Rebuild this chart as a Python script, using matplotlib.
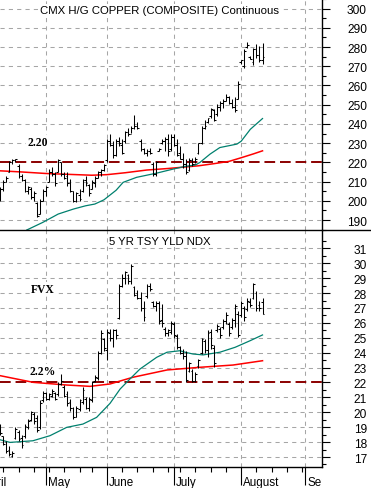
import matplotlib
matplotlib.use("Agg")
import matplotlib.pyplot as plt
from matplotlib.lines import Line2D
from matplotlib.transforms import Bbox, TransformedBbox, blended_transform_factory
import numpy as np

# ---------------- data ----------------
# trading-day index (0 = 1 May 2009)
day_index = list(range(-15, 72))

cu_low = [200, 205, 209.6, 214.8, 219, 220, 212, 210.4, 204.4, 203.5, 200.9, 200, 191.6, 193, 200,
          202.6, 209.6, 213, 207.8, 214.8, 213, 211.3, 207.8, 204.4, 199.5, 199.2, 200, 204.4, 207.8, 202.6,
          206, 207, 212, 213, 215.6,
          220, 228.6, 222.5, 223.4, 228.6, 224.3, 230.3, 233.8, 235.5, 237.2, 237.2, 226, 224.3, 223.4, 224.3,
          213, 213, 226, 229.5, 226, 223.4, 226,
          228.6, 223.4, 221.7, 217, 213.9, 215.6, 218.2, 219.5, 224.3, 229.5, 237.2, 240.7, 243.3, 241.6,
          244.2, 246.8, 248.5, 252, 250.2, 248.5, 246, 253,
          271, 269.3, 279.7, 273.6, 270.5, 274.5, 272, 271]
cu_high = [207, 211, 213, 220.8, 221.5, 222, 219, 213.9, 211.3, 207.8, 207, 205.2, 199.3, 201, 206,
           207.8, 216.5, 217.5, 214.8, 221.7, 220, 214.8, 214.8, 211.3, 205, 204.5, 206, 211.3, 213, 208.5,
           211, 213, 215.6, 216.5, 219,
           232, 234.6, 231.2, 232, 233, 232, 236.4, 238.1, 239, 244.5, 240.9, 232, 227.7, 226.9, 227.7,
           220, 220.8, 227.7, 232, 233, 234.6, 234.6,
           234.6, 232, 228.6, 225, 221.7, 222.5, 222.5, 223, 230.3, 239, 242, 243.3, 248.5, 247.6,
           250.2, 252, 252.8, 255.4, 254.5, 252.8, 254, 262.3,
           273.5, 278.8, 282.6, 275.3, 279.7, 281.4, 280.5, 282.2]
cu_open = [201, 206, 210, 215, 220, 221, 218, 213, 211, 205, 206, 202, 199, 193, 200,
           205, 210, 215, 214, 215, 220, 214, 213, 209, 205, 200, 203, 205, 211, 208,
           206, 209, 212, 215, 216,
           221, 231, 229, 224, 231, 229, 231, 236, 235, 238, 239, 231, 227, 225, 226,
           219, 214, 226, 230, 231, 232, 227,
           233, 229, 225, 222, 219, 216, 221, 219, 225, 230, 238, 241, 244, 247,
           245, 249, 251, 252, 254, 251, 249, 253,
           272, 270, 280, 275, 272, 279, 276, 273]
cu_close = [206, 210, 212, 220, 221, 221.5, 213, 211, 205, 207, 202, 204, 192, 200, 205,
            207, 215, 214, 209, 221, 214, 212, 209, 205, 200, 204, 201, 211, 209, 204,
            210, 212, 215, 216, 218.5,
            231, 229, 224, 231, 230, 225, 236, 235, 238, 239, 238, 227, 225, 226, 225,
            214, 220, 227, 231, 232, 226, 233,
            229, 224, 222, 219, 215, 221, 219, 222, 230, 238, 239, 243, 248, 242,
            249, 251, 252, 254, 251, 249, 247, 261,
            273, 278, 281, 274, 279, 276, 273, 275]

fvx_low = [18.5, 17.8, 17.3, 17.1, 17.0, 18.2, 18.1, 17.6, 18.3, 18.9, 19.4, 19.2, 18.65, 18.9, 20.7,
           20.8, 20.8, 21.0, 20.8, 21.1, 21.8, 21.0, 20.45, 20.1, 19.55, 19.66, 20.1, 20.55, 20.2, 20.1,
           20.7, 22.0, 22.2, 23.9, 24.1,
           23.5, 24.8, 24.4, 24.9, 26.26, 28.4, 28.6, 28.6, 28.6, 27.8, 27.6, 26.8, 26.15, 27.7, 28.16,
           27.05, 26.8, 25.9, 25.7, 25.14, 25.14, 25.25,
           25.0, 24.25, 23.9, 23.6, 22.0, 22.7, 22.0, 22.0, 23.0, 23.9, 24.0, 23.7, 24.25, 23.06,
           25.4, 25.0, 25.6, 25.9, 25.14, 25.6, 25.7, 25.03,
           26.4, 26.15, 26.8, 27.05, 27.6, 26.8, 26.8, 26.6]
fvx_high = [19.2, 18.4, 18.1, 17.76, 17.4, 19.0, 18.8, 18.5, 19.2, 19.55, 20.1, 20.0, 19.8, 20.8, 21.45,
            21.35, 21.3, 21.56, 21.35, 22.0, 22.6, 21.8, 21.45, 20.9, 20.33, 20.44, 20.9, 21.7, 21.0, 21.0,
            22.1, 22.5, 24.1, 25.5, 25.0,
            25.6, 25.6, 25.6, 25.6, 28.6, 29.3, 29.5, 29.3, 29.95, 28.5, 28.2, 28.05, 27.5, 28.6, 28.7,
            27.5, 27.5, 27.5, 27.27, 25.7, 25.6, 26.15,
            26.05, 25.25, 24.47, 24.25, 24.1, 23.4, 22.9, 22.7, 23.57, 25.0, 24.9, 25.5, 25.6, 24.5,
            25.9, 25.7, 26.26, 26.7, 26.05, 26.3, 27.27, 26.8,
            27.5, 27.15, 27.7, 27.7, 28.7, 28.16, 27.5, 27.7]
fvx_open = [19.1, 18.4, 18.0, 17.5, 17.1, 18.3, 18.7, 18.3, 18.4, 19.0, 19.5, 19.9, 19.6, 19.0, 20.8,
            21.3, 20.9, 21.1, 21.3, 21.2, 21.9, 21.7, 21.2, 20.7, 20.3, 19.7, 20.2, 20.7, 20.9, 20.3,
            20.8, 22.1, 22.3, 24.0, 24.9,
            24.2, 25.3, 25.0, 25.5, 26.3, 28.5, 29.0, 29.2, 28.8, 28.4, 28.0, 27.7, 27.0, 27.8, 28.5,
            27.4, 27.1, 27.3, 26.2, 25.6, 25.3, 25.4,
            25.9, 25.1, 24.4, 24.0, 23.8, 22.8, 22.8, 22.1, 23.1, 24.0, 24.8, 24.2, 25.4, 24.3,
            25.5, 25.6, 25.7, 26.1, 25.9, 25.7, 26.2, 26.6,
            26.5, 27.0, 26.9, 27.4, 27.7, 28.0, 27.2, 27.4]
fvx_close = [18.6, 17.9, 17.4, 17.2, 17.3, 18.9, 18.2, 17.8, 19.1, 19.4, 20.0, 19.4, 18.8, 20.6, 21.3,
             20.9, 21.2, 21.4, 20.9, 21.9, 22.1, 21.1, 20.6, 20.3, 19.7, 20.3, 20.8, 21.5, 20.3, 20.9,
             22.0, 22.4, 24.0, 25.3, 24.3,
             25.4, 25.0, 25.5, 25.2, 28.5, 29.0, 29.4, 28.8, 29.8, 27.9, 27.7, 27.0, 26.4, 28.5, 28.3,
             27.1, 27.3, 26.1, 26.0, 25.3, 25.5, 26.0,
             25.2, 24.4, 24.0, 23.8, 22.2, 23.3, 22.1, 22.6, 23.5, 24.9, 24.2, 25.3, 24.5, 23.3,
             25.8, 25.2, 26.1, 26.5, 25.3, 26.2, 27.1, 25.2,
             27.3, 26.4, 27.5, 27.2, 28.6, 27.0, 27.0, 26.6]

# moving averages at selected days
cu_ma50_day = [-6.3, -1, 4, 9, 13, 16, 19, 23, 25.3, 29.7, 36.3, 41.7, 45.6, 49, 50.5, 53.8, 57, 62.6, 64, 67, 71]
cu_ma50_val = [184.8, 188.8, 193.1, 195.7, 197.4, 198.3, 200.5, 205.5, 209.6, 212.2, 214.4, 216.5, 217.9,
               218.6, 220.0, 224.3, 227.7, 229.5, 231.0, 237.2, 242.8]
cu_ma200_day = [-15.1, -8, 0, 10, 15, 20, 26, 33, 40, 45, 50, 55, 60, 64, 68, 71]
cu_ma200_val = [215.6, 215.0, 214.2, 213.6, 213.3, 213.6, 214.6, 216.0, 216.8, 217.5, 218.2, 219.3,
                220.5, 222.4, 224.4, 226.0]

fvx_ma50_day = [-15.1, -11.8, -4.3, 1.3, 6.8, 12.1, 16.6, 21, 24.3, 27.5, 30.8, 36.3, 39.7, 43.9, 45.6,
                48.2, 51.5, 57, 62, 66.9, 71]
fvx_ma50_val = [18.16, 17.98, 18.09, 18.43, 18.99, 19.21, 19.66, 20.6, 21.56, 22.23, 22.9, 23.69, 24.03,
                24.13, 24.03, 23.91, 23.85, 24.03, 24.36, 24.8, 25.19]
fvx_ma200_day = [-15.1, -4.2, 6.8, 14.4, 21, 28.5, 39.7, 50.5, 61.3, 71]
fvx_ma200_val = [22.46, 22.01, 21.83, 21.74, 21.9, 22.35, 22.84, 23.02, 23.17, 23.46]

cu_level = 220
fvx_level = 22

month_start = [-21, 0, 20, 42, 64, 85]
month_names = ["April", "May", "June", "July", "August", "September"]
week_ticks = [-14, -9, -4, 1, 6, 11, 15, 25, 30, 35, 40, 44, 49, 54, 59, 69, 74, 79, 84]

cu_ticks = list(range(190, 301, 10))
fvx_ticks = list(range(17, 32))

# ---------------- figure ----------------
W, H = 371, 489
fig = plt.figure(figsize=(W / 100, H / 100), dpi=100)
fig.patch.set_facecolor("white")


def px_rect(l, t, r, b):
    return [l / W, 1 - b / H, (r - l) / W, (b - t) / H]


ax1 = fig.add_axes(px_rect(0, 0, 322, 231))
ax2 = fig.add_axes(px_rect(0, 231, 322, 468))

SANS = "Liberation Sans"
SERIF = "Liberation Serif"
GRID = "#a6a6a6"
TEAL = "#00806e"
RED = "#ff0000"
MAROON = "#8b0000"

x = np.array(day_index, dtype=float)


def ohlc(ax, o, h, l, c):
    ax.vlines(x, l, h, color="black", lw=0.75, zorder=5)
    ax.hlines(o, x - 0.6, x, color="black", lw=0.75, zorder=5)
    ax.hlines(c, x, x + 0.6, color="black", lw=0.75, zorder=5)


def style(ax, ticks, minor_step, ylim):
    ax.set_xlim(-15.08, 90.5)
    ax.set_ylim(*ylim)
    for s in ("left", "top"):
        ax.spines[s].set_visible(False)
    ax.spines["right"].set_linewidth(1.0)
    ax.yaxis.tick_right()
    ax.set_yticks(ticks)
    ax.set_yticks(np.arange(ticks[0] - minor_step, ticks[-1] + 2 * minor_step, minor_step), minor=True)
    ax.tick_params(axis="y", which="major", direction="out", length=5.8, width=0.8,
                   pad=26.5, labelsize=8.6, labelfontfamily=SANS)
    ax.tick_params(axis="y", which="minor", direction="out", length=2.9, width=0.8)
    for t in ax.yaxis.get_major_ticks():
        t.label2.set_horizontalalignment("right")
    for v in ticks:
        if v not in (cu_level, fvx_level):
            ax.axhline(v, color=GRID, lw=0.75, ls=(0, (4, 4)), zorder=0)
    for m in month_start[1:]:
        ax.axvline(m, color=GRID, lw=0.75, ls=(0, (4, 4)), zorder=0)


# top panel
style(ax1, cu_ticks, 5, (184.8, 304.75))
ax1.spines["bottom"].set_visible(False)
ax1.set_xticks([])
ax1.plot(cu_ma200_day, cu_ma200_val, color=RED, lw=1.1, zorder=3)
ax1.plot(cu_ma50_day, cu_ma50_val, color=TEAL, lw=0.9, zorder=3)
ax1.axhline(cu_level, color=MAROON, lw=1.4, ls=(0, (5.5, 2.5)), zorder=2)
ohlc(ax1, cu_open, cu_high, cu_low, cu_close)

# bottom panel
style(ax2, fvx_ticks, 0.5, (16.33, 32.23))
ax2.spines["top"].set_visible(False)
ax2.spines["bottom"].set_linewidth(1.0)
ax2.set_xticks(month_start[1:])
ax2.set_xticklabels([])
ax2.set_xticks(week_ticks, minor=True)
ax2.tick_params(axis="x", which="major", direction="out", length=13, width=0.8)
ax2.tick_params(axis="x", which="minor", direction="out", length=3.6, width=0.8)
ax2.plot(fvx_ma200_day, fvx_ma200_val, color=RED, lw=1.1, zorder=3)
ax2.plot(fvx_ma50_day, fvx_ma50_val, color=TEAL, lw=0.9, zorder=3)
ax2.axhline(fvx_level, color=MAROON, lw=1.4, ls=(0, (5.5, 2.5)), zorder=2)
ohlc(ax2, fvx_open, fvx_high, fvx_low, fvx_close)

# divider line across the whole width
fig.add_artist(Line2D([0, 1], [1 - 231 / H] * 2, transform=fig.transFigure, color="black", lw=1.0))

# month labels (first and last are cut by the chart edges, as in the source)
clip = TransformedBbox(Bbox([[0, 0], [322 / W, 1]]), fig.transFigure)
tr = blended_transform_factory(ax2.transData, fig.transFigure)
for m, name in zip(month_start, month_names):
    t = ax2.text(m + 0.6, 1 - 483 / H, name, transform=tr, ha="left", va="center",
                 fontsize=8.4, family=SANS, clip_on=True)
    t.set_clip_box(clip)
    t.set_clip_path(None)

# titles and notes
box = dict(facecolor="white", edgecolor="none", pad=1.0)
fig.text(160 / W, 1 - 11 / H, "CMX H/G COPPER (COMPOSITE) Continuous", ha="center", va="center",
         fontsize=8.2, family=SANS, bbox=box)
fig.text(160 / W, 1 - 242 / H, "5 YR TSY YLD NDX", ha="center", va="center",
         fontsize=8.2, family=SANS, bbox=box)
fig.text(38 / W, 1 - 143 / H, "2.20", ha="center", va="center", fontsize=8.4, family=SERIF,
         weight="bold", bbox=box)
fig.text(43 / W, 1 - 290 / H, "FVX", ha="center", va="center", fontsize=8.4, family=SERIF,
         weight="bold", bbox=box)
fig.text(43 / W, 1 - 372 / H, "2.2%", ha="center", va="center", fontsize=8.4, family=SERIF,
         weight="bold", bbox=box)

fig.savefig("out.png", dpi=100, facecolor="white")
